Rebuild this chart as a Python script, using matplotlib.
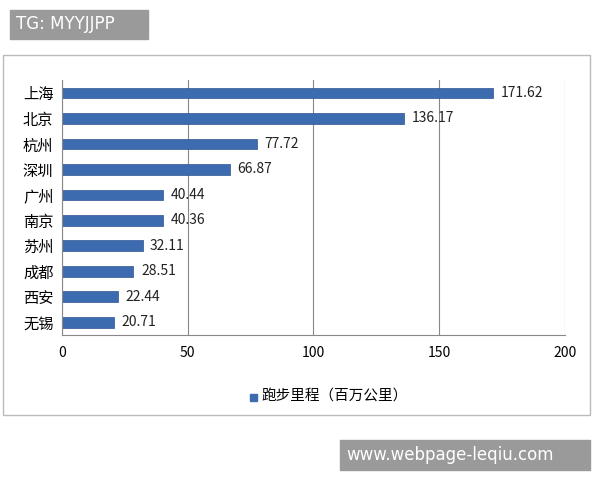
import matplotlib
matplotlib.use("Agg")
import matplotlib.pyplot as plt
from matplotlib.patches import Rectangle

plt.rcParams['font.family'] = ['Noto Sans CJK SC', 'DejaVu Sans']

cities = ["上海", "北京", "杭州", "深圳", "广州", "南京", "苏州", "成都", "西安", "无锡"]
values = [171.62, 136.17, 77.72, 66.87, 40.44, 40.36, 32.11, 28.51, 22.44, 20.71]
xticks = [0, 50, 100, 150, 200]
series_name = "跑步里程（百万公里）"

fig = plt.figure(figsize=(6, 4.8), dpi=100)
# chart frame
fig.patches.append(Rectangle((3 / 600, 1 - 415 / 480), 587 / 600, 360 / 480,
                             transform=fig.transFigure, fill=False,
                             edgecolor="#bbbbbb", linewidth=1))
ax = fig.add_axes([0.103, 0.302, 0.838, 0.531])
ypos = list(range(len(cities)))
ax.barh(ypos, values, height=0.42, color="#3C6BB0", edgecolor="#2E5590", linewidth=0.5)
for y, v in zip(ypos, values):
    ax.text(v + 3, y, f"{v:.2f}", va="center", ha="left", fontsize=10, color="#222222")
ax.set_yticks(ypos)
ax.set_yticklabels(cities, fontsize=11)
ax.set_xlim(0, 200)
ax.set_ylim(len(cities) - 0.5, -0.5)
ax.set_xticks(xticks)
ax.tick_params(axis="x", labelsize=10, length=0, pad=8)
ax.tick_params(axis="y", length=0, pad=6)
ax.grid(axis="x", color="#888888", linewidth=0.8)
ax.set_axisbelow(True)
for s in ["top", "right"]:
    ax.spines[s].set_visible(False)
ax.spines["left"].set_color("#888888")
ax.spines["bottom"].set_color("#888888")

fig.patches.append(Rectangle((250 / 600, 1 - 401 / 480), 7 / 600, 7 / 480,
                             transform=fig.transFigure, color="#3C6BB0"))
fig.text(262 / 600, 1 - 397 / 480, series_name, fontsize=10.5, va="center", ha="left")

# watermarks
fig.patches.append(Rectangle((10 / 600, 1 - 39 / 480), 138 / 600, 29 / 480,
                             transform=fig.transFigure, color="#9a9a9a"))
fig.text(16 / 600, 1 - 24 / 480, "TG: MYYJJPP", color="white", fontsize=12,
         va="center", family="DejaVu Sans")
fig.patches.append(Rectangle((340 / 600, 1 - 470 / 480), 250 / 600, 30 / 480,
                             transform=fig.transFigure, color="#9a9a9a"))
fig.text(346 / 600, 1 - 455 / 480, "www.webpage-leqiu.com", color="white", fontsize=12,
         va="center", family="DejaVu Sans")

fig.savefig("out.png", dpi=100)
